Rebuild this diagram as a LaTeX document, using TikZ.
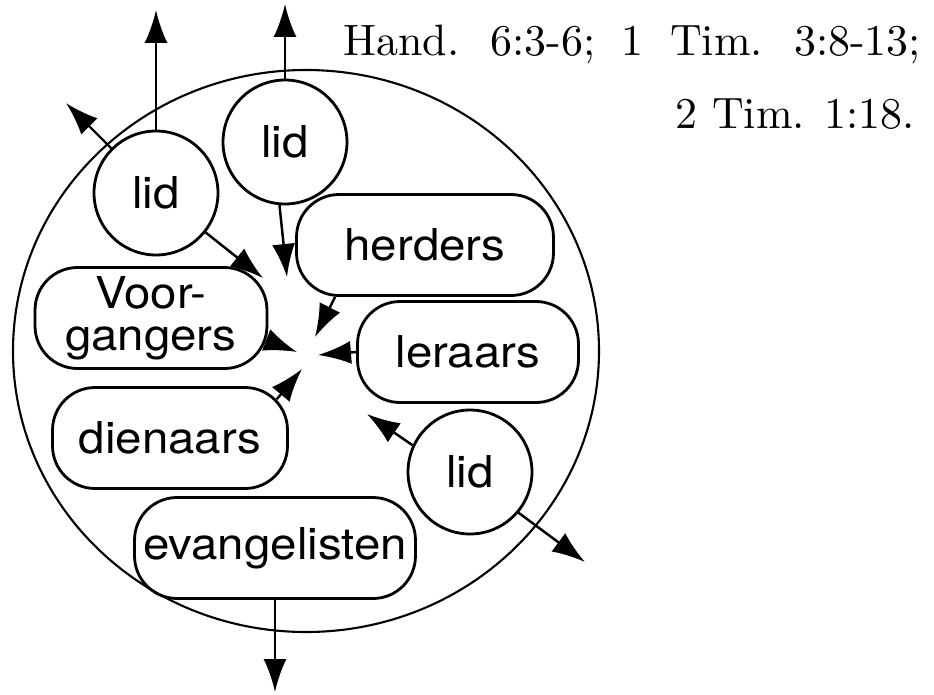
\documentclass[tikz,border=0pt]{standalone}
\usepackage{fontspec}
\setsansfont{TeX Gyre Heros}[FakeStretch=1.08]
\newfontfamily\reffont{lmroman10-regular.otf}
\usetikzlibrary{arrows.meta, calc}

\tikzset{
  lid/.style={draw, circle, line width=1.6pt, minimum size=2.48cm, inner sep=0pt,
    font=\sffamily\fontsize{25}{25}\selectfont},
  ambt/.style={draw, rectangle, rounded corners=0.85cm, line width=1.6pt, inner sep=1pt,
    minimum height=2.02cm, align=center, font=\sffamily\fontsize{25}{24}\selectfont},
  pijl/.style={line width=1.4pt, -{Latex[length=6.6mm, width=4.6mm]}},
  tekst/.style={font=\reffont\fontsize{25}{25}\selectfont, inner sep=0pt},
}

\begin{document}
\begin{tikzpicture}[x=0.02cm, y=-0.02cm]
	\useasboundingbox (0,0) rectangle (934,694);

	% de gemeente
	\draw[line width=1.2pt] (306,351) ellipse (293 and 281);

	\node[lid] (lidA) at (156,193) {lid};
	\node[lid] (lidB) at (285,142) {lid};
	\node[lid] (lidC) at (470,472) {lid};

	\node[ambt, minimum width=5.14cm] (herders) at (425,245) {herders};
	\node[ambt, minimum width=4.42cm] (leraars) at (468,352) {leraars};
	\node[ambt, minimum width=4.64cm] (voorg) at (151,318) {Voor-\\gangers};
	\node[ambt, minimum width=4.70cm] (dien) at (170,438) {dienaars};
	\node[ambt, minimum width=5.62cm] (evang) at (275,548) {evangelisten};

	% punten naar het midden
	\coordinate (inA) at (263,278);
	\coordinate (inB) at (287,277);
	\coordinate (inC) at (315,337);
	\coordinate (inD) at (297,352);
	\coordinate (inE) at (318,355);
	\coordinate (inF) at (302,369);
	\coordinate (inG) at (367,414);

	% punten naar buiten
	\coordinate (uitA) at (156,10);
	\coordinate (uitB) at (66,103);
	\coordinate (uitC) at (285,4);
	\coordinate (uitD) at (585,562);
	\coordinate (uitE) at (275,692);

	\draw[pijl] (lidA) -- (inA);
	\draw[pijl] (lidB.-95) -- (inB);
	\draw[pijl] (herders.-150) -- (inC);
	\draw[pijl] (voorg.-11) -- (inD);
	\draw[pijl] (leraars.west) -- (inE);
	\draw[pijl] ($(dien.north east)+(-12,13)$) -- (inF);
	\draw[pijl] (lidC.155) -- (inG);

	\draw[pijl] (lidA.north) -- (uitA);
	\draw[pijl] (lidA) -- (uitB);
	\draw[pijl] (lidB.north) -- (uitC);
	\draw[pijl] (lidC.-40) -- (uitD);
	\draw[pijl] (evang.south) -- (uitE);

	\node[tekst, anchor=base west] (refA) at (343,55) {\spaceskip=15pt Hand. 6:3-6; 1 Tim. 3:8-13;};
	\node[tekst, anchor=base east] (refB) at (915,128) {2 Tim. 1:18.};

\end{tikzpicture}
\end{document}
